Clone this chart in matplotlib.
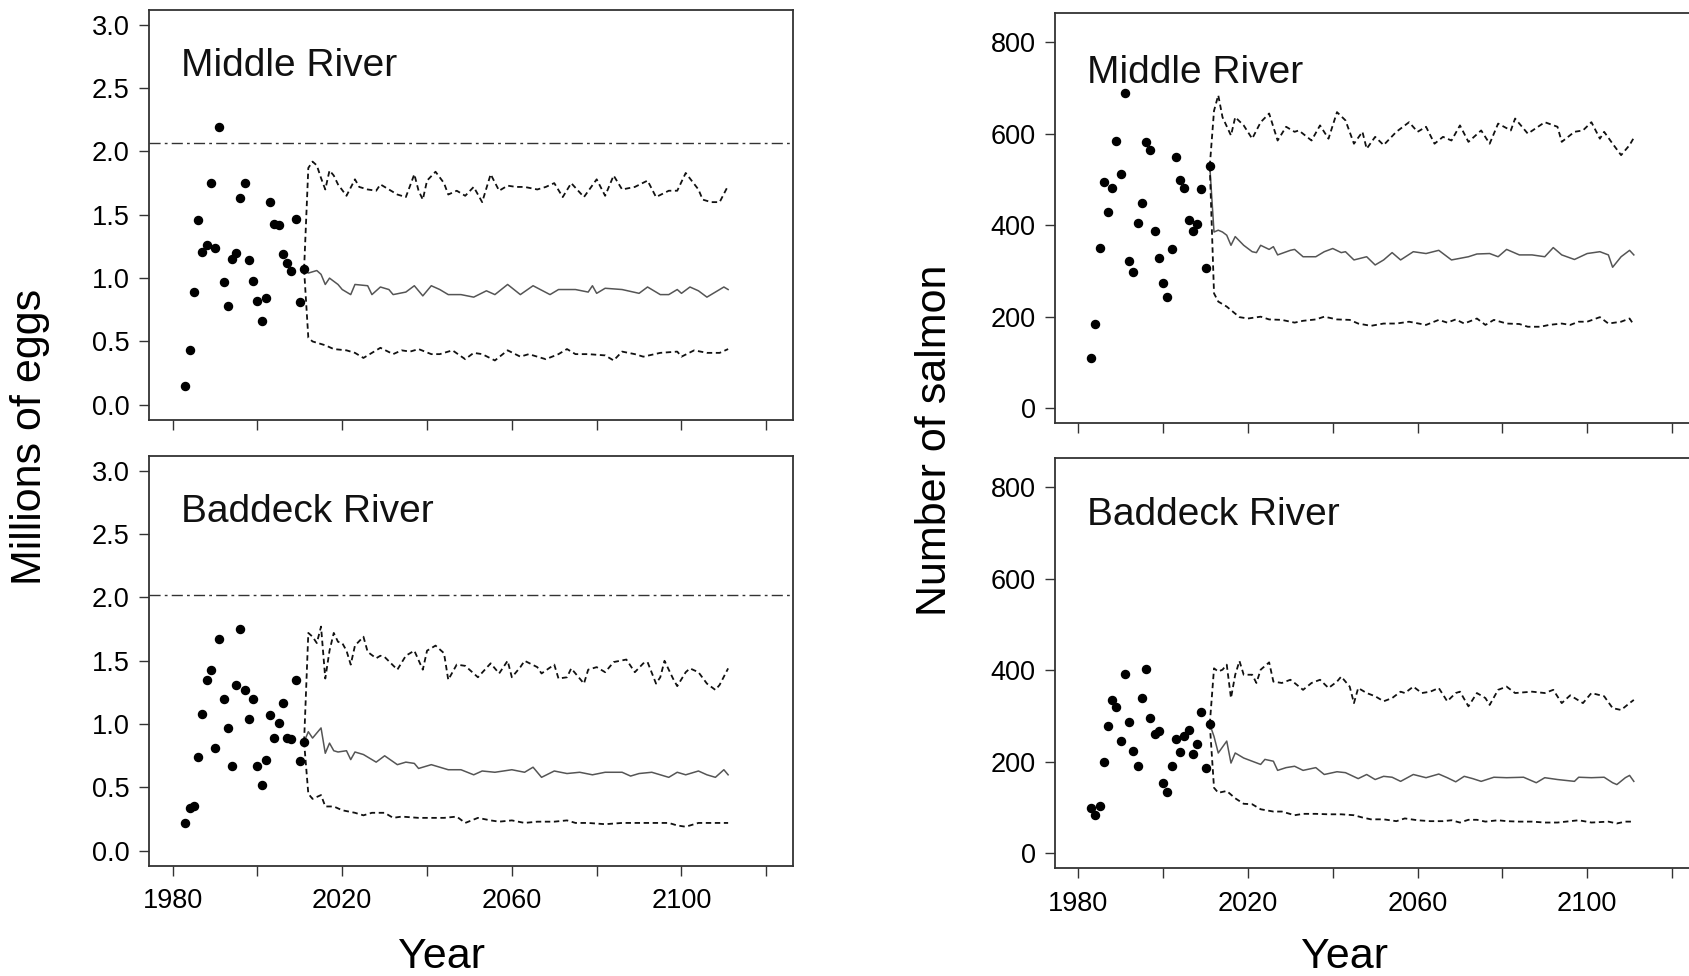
import matplotlib
matplotlib.use("Agg")
import matplotlib.pyplot as plt
from matplotlib import ticker

plt.rcParams["font.family"] = ["Liberation Sans", "DejaVu Sans"]

# observed values, 1983-2011
obs_years = list(range(1983, 2012))
mr_eggs_obs = [0.15, 0.43, 0.89, 1.46, 1.21, 1.26, 1.75, 1.24, 2.19, 0.97, 0.78, 1.15, 1.20, 1.63, 1.75,
               1.14, 0.98, 0.82, 0.66, 0.84, 1.60, 1.43, 1.42, 1.19, 1.12, 1.06, 1.47, 0.81, 1.07]
br_eggs_obs = [0.22, 0.34, 0.35, 0.74, 1.08, 1.35, 1.43, 0.81, 1.67, 1.20, 0.97, 0.67, 1.31, 1.75, 1.27,
               1.04, 1.20, 0.67, 0.52, 0.72, 1.07, 0.89, 1.01, 1.17, 0.89, 0.88, 1.35, 0.71, 0.86]
mr_salmon_obs = [109, 185, 351, 495, 429, 482, 583, 511, 689, 322, 298, 405, 449, 582, 565,
                 387, 329, 273, 242, 347, 548, 498, 482, 411, 387, 402, 480, 307, 529]
br_salmon_obs = [98, 83, 103, 200, 279, 335, 319, 245, 391, 286, 224, 190, 340, 403, 295,
                 261, 266, 154, 134, 190, 250, 221, 256, 270, 216, 239, 309, 187, 282]

# projections (year, value): upper, median, lower
mr_eggs_hi = [(2011, 1.07), (2012, 1.87), (2013, 1.92), (2014, 1.89), (2015, 1.79), (2016, 1.70), (2017, 1.85),
              (2018, 1.81), (2019, 1.74), (2021, 1.65), (2023, 1.78), (2024, 1.72), (2026, 1.70), (2028, 1.69),
              (2029, 1.74), (2031, 1.70), (2033, 1.66), (2035, 1.64), (2037, 1.82), (2038, 1.69), (2039, 1.62),
              (2040, 1.77), (2042, 1.84), (2044, 1.75), (2045, 1.66), (2047, 1.69), (2049, 1.65), (2051, 1.72),
              (2053, 1.60), (2055, 1.82), (2057, 1.69), (2059, 1.73), (2061, 1.72), (2063, 1.72), (2066, 1.70),
              (2068, 1.72), (2070, 1.75), (2072, 1.64), (2074, 1.75), (2077, 1.64), (2080, 1.78), (2082, 1.65),
              (2084, 1.81), (2086, 1.70), (2089, 1.72), (2092, 1.77), (2094, 1.64), (2097, 1.69), (2099, 1.69),
              (2101, 1.83), (2104, 1.70), (2105, 1.62), (2107, 1.60), (2109, 1.60), (2111, 1.73)]
mr_eggs_med = [(2011, 1.07), (2012, 1.04), (2014, 1.06), (2015, 1.03), (2016, 0.95), (2017, 1.00), (2019, 0.95),
               (2020, 0.91), (2022, 0.87), (2023, 0.95), (2026, 0.94), (2027, 0.87), (2029, 0.93), (2031, 0.91),
               (2032, 0.87), (2035, 0.89), (2037, 0.94), (2039, 0.86), (2041, 0.94), (2043, 0.91), (2045, 0.87),
               (2048, 0.87), (2051, 0.85), (2054, 0.90), (2056, 0.87), (2059, 0.95), (2062, 0.87), (2065, 0.94),
               (2069, 0.87), (2071, 0.91), (2075, 0.91), (2078, 0.89), (2079, 0.94), (2080, 0.88), (2082, 0.92),
               (2086, 0.91), (2090, 0.88), (2092, 0.93), (2095, 0.87), (2097, 0.87), (2099, 0.91), (2100, 0.88),
               (2102, 0.93), (2104, 0.90), (2106, 0.85), (2108, 0.89), (2110, 0.93), (2111, 0.91)]
mr_eggs_lo = [(2011, 1.07), (2012, 0.53), (2013, 0.50), (2016, 0.47), (2018, 0.44), (2021, 0.43), (2023, 0.41),
              (2025, 0.37), (2027, 0.41), (2029, 0.45), (2032, 0.40), (2034, 0.43), (2036, 0.42), (2038, 0.44),
              (2041, 0.40), (2043, 0.40), (2046, 0.43), (2049, 0.36), (2051, 0.41), (2053, 0.40), (2056, 0.35),
              (2059, 0.43), (2062, 0.38), (2064, 0.40), (2068, 0.36), (2071, 0.40), (2073, 0.44), (2075, 0.40),
              (2078, 0.40), (2082, 0.39), (2084, 0.35), (2086, 0.42), (2089, 0.40), (2091, 0.38), (2095, 0.41),
              (2099, 0.42), (2100, 0.38), (2103, 0.43), (2106, 0.41), (2109, 0.41), (2111, 0.44)]

br_eggs_hi = [(2011, 0.86), (2012, 1.72), (2013, 1.69), (2014, 1.64), (2015, 1.77), (2016, 1.36), (2017, 1.58),
              (2018, 1.72), (2019, 1.65), (2020, 1.64), (2021, 1.58), (2022, 1.47), (2023, 1.62), (2025, 1.69),
              (2026, 1.57), (2028, 1.52), (2029, 1.54), (2030, 1.53), (2033, 1.43), (2035, 1.54), (2037, 1.58),
              (2039, 1.43), (2040, 1.58), (2042, 1.62), (2044, 1.56), (2045, 1.35), (2047, 1.47), (2049, 1.46),
              (2050, 1.43), (2052, 1.37), (2055, 1.48), (2057, 1.40), (2059, 1.50), (2060, 1.37), (2062, 1.45),
              (2063, 1.50), (2066, 1.45), (2067, 1.40), (2070, 1.47), (2071, 1.36), (2073, 1.37), (2074, 1.44),
              (2077, 1.32), (2078, 1.43), (2080, 1.45), (2082, 1.41), (2084, 1.49), (2087, 1.51), (2089, 1.41),
              (2091, 1.48), (2092, 1.49), (2094, 1.32), (2095, 1.37), (2096, 1.50), (2098, 1.36), (2099, 1.30),
              (2101, 1.41), (2102, 1.44), (2104, 1.41), (2106, 1.32), (2108, 1.27), (2109, 1.31), (2111, 1.44)]
br_eggs_med = [(2011, 0.86), (2012, 0.94), (2013, 0.89), (2015, 0.97), (2016, 0.77), (2017, 0.85), (2018, 0.79),
               (2019, 0.78), (2021, 0.79), (2022, 0.72), (2023, 0.78), (2025, 0.76), (2028, 0.70), (2030, 0.75),
               (2033, 0.68), (2035, 0.70), (2037, 0.69), (2038, 0.65), (2041, 0.68), (2043, 0.66), (2045, 0.64),
               (2048, 0.64), (2051, 0.60), (2053, 0.63), (2056, 0.62), (2060, 0.64), (2063, 0.62), (2065, 0.66),
               (2067, 0.58), (2070, 0.63), (2073, 0.61), (2076, 0.62), (2079, 0.60), (2082, 0.62), (2086, 0.62),
               (2088, 0.59), (2090, 0.61), (2093, 0.62), (2095, 0.60), (2097, 0.58), (2099, 0.62), (2101, 0.60),
               (2104, 0.63), (2106, 0.60), (2108, 0.58), (2110, 0.64), (2111, 0.60)]
br_eggs_lo = [(2011, 0.86), (2012, 0.45), (2013, 0.41), (2015, 0.44), (2016, 0.35), (2018, 0.35), (2020, 0.32),
              (2023, 0.30), (2025, 0.28), (2027, 0.30), (2030, 0.30), (2032, 0.26), (2034, 0.27), (2038, 0.26),
              (2041, 0.26), (2044, 0.26), (2047, 0.27), (2049, 0.22), (2052, 0.26), (2055, 0.24), (2057, 0.23),
              (2060, 0.24), (2063, 0.22), (2066, 0.23), (2070, 0.23), (2073, 0.24), (2075, 0.22), (2078, 0.22),
              (2082, 0.21), (2086, 0.22), (2090, 0.22), (2093, 0.22), (2097, 0.22), (2099, 0.20), (2101, 0.19),
              (2104, 0.22), (2107, 0.22), (2111, 0.22)]

mr_salmon_hi = [(2011, 529), (2012, 650), (2013, 684), (2014, 636), (2016, 596), (2017, 636), (2019, 618),
                (2021, 589), (2023, 625), (2025, 644), (2027, 585), (2029, 615), (2031, 604), (2032, 607),
                (2035, 585), (2037, 618), (2039, 589), (2041, 647), (2043, 629), (2045, 578), (2047, 604),
                (2048, 567), (2050, 593), (2052, 575), (2055, 604), (2058, 625), (2060, 604), (2062, 615),
                (2064, 578), (2066, 593), (2068, 585), (2070, 618), (2072, 582), (2075, 607), (2077, 578),
                (2079, 622), (2082, 607), (2083, 633), (2086, 600), (2090, 625), (2093, 615), (2094, 582),
                (2097, 604), (2099, 607), (2101, 625), (2103, 589), (2104, 604), (2106, 578), (2108, 553),
                (2110, 575), (2111, 591)]
mr_salmon_med = [(2011, 529), (2012, 385), (2013, 389), (2014, 385), (2015, 378), (2016, 356), (2017, 375),
                 (2019, 356), (2021, 342), (2022, 340), (2023, 356), (2025, 347), (2026, 353), (2027, 335),
                 (2030, 345), (2031, 347), (2033, 331), (2036, 331), (2038, 342), (2040, 349), (2042, 340),
                 (2043, 342), (2045, 324), (2048, 331), (2050, 313), (2052, 324), (2054, 340), (2056, 324),
                 (2059, 342), (2062, 338), (2065, 345), (2068, 324), (2072, 331), (2074, 337), (2077, 338),
                 (2079, 331), (2081, 347), (2084, 335), (2087, 335), (2090, 331), (2092, 351), (2094, 335),
                 (2097, 325), (2100, 338), (2103, 342), (2105, 335), (2106, 308), (2108, 331), (2110, 345),
                 (2111, 335)]
mr_salmon_lo = [(2011, 529), (2012, 251), (2013, 233), (2015, 222), (2018, 199), (2020, 196), (2023, 200),
                (2025, 194), (2028, 193), (2031, 187), (2033, 191), (2036, 194), (2038, 200), (2041, 194),
                (2044, 193), (2046, 185), (2049, 180), (2052, 185), (2055, 185), (2058, 189), (2062, 182),
                (2065, 193), (2067, 187), (2069, 194), (2071, 185), (2074, 196), (2076, 182), (2078, 193),
                (2081, 185), (2084, 184), (2086, 178), (2089, 178), (2091, 182), (2094, 185), (2096, 182),
                (2098, 189), (2100, 189), (2103, 199), (2105, 185), (2108, 189), (2110, 196), (2111, 182)]

br_salmon_hi = [(2011, 282), (2012, 404), (2013, 397), (2014, 401), (2015, 412), (2016, 339), (2017, 390),
                (2018, 420), (2019, 390), (2021, 390), (2022, 372), (2023, 401), (2025, 417), (2026, 375),
                (2028, 372), (2030, 379), (2031, 372), (2033, 357), (2035, 372), (2037, 379), (2039, 361),
                (2041, 375), (2042, 386), (2044, 364), (2045, 328), (2046, 361), (2048, 350), (2050, 343),
                (2052, 332), (2054, 339), (2056, 353), (2057, 350), (2059, 364), (2061, 350), (2063, 353),
                (2065, 361), (2067, 332), (2069, 350), (2070, 353), (2072, 321), (2074, 350), (2076, 339),
                (2077, 324), (2079, 357), (2081, 364), (2083, 350), (2087, 353), (2090, 350), (2092, 357),
                (2094, 328), (2096, 345), (2099, 328), (2101, 350), (2104, 343), (2106, 317), (2108, 313),
                (2110, 328), (2111, 335)]
br_salmon_med = [(2011, 282), (2012, 255), (2013, 219), (2015, 245), (2016, 197), (2017, 219), (2019, 208),
                 (2021, 201), (2023, 194), (2024, 205), (2026, 201), (2027, 181), (2029, 187), (2031, 190),
                 (2033, 181), (2036, 187), (2038, 172), (2041, 178), (2043, 176), (2046, 163), (2048, 172),
                 (2050, 161), (2052, 168), (2054, 166), (2056, 157), (2059, 172), (2062, 165), (2065, 173),
                 (2067, 165), (2069, 156), (2071, 168), (2073, 163), (2075, 157), (2078, 166), (2081, 165),
                 (2085, 166), (2088, 154), (2090, 165), (2093, 161), (2097, 157), (2098, 166), (2101, 165),
                 (2104, 166), (2106, 154), (2107, 150), (2109, 165), (2110, 170), (2111, 157)]
br_salmon_lo = [(2011, 282), (2012, 143), (2013, 132), (2015, 136), (2017, 120), (2019, 108), (2021, 107),
                (2023, 96), (2026, 91), (2028, 91), (2031, 83), (2033, 86), (2036, 86), (2039, 85),
                (2042, 85), (2045, 83), (2047, 78), (2049, 74), (2052, 74), (2055, 70), (2057, 76),
                (2060, 72), (2063, 70), (2066, 70), (2068, 72), (2070, 67), (2072, 73), (2074, 73),
                (2076, 69), (2079, 72), (2081, 70), (2084, 69), (2087, 69), (2090, 67), (2093, 67),
                (2095, 69), (2098, 72), (2101, 67), (2105, 69), (2107, 65), (2109, 69), (2111, 69)]

# conservation requirement (eggs)
mr_ref = 2.07
br_ref = 2.02

xticks = [1980, 2000, 2020, 2040, 2060, 2080, 2100, 2120]
xticklabels = ["1980", "", "2020", "", "2060", "", "2100", ""]

W, H = 1690, 976
fig = plt.figure(figsize=(W / 100, H / 100), dpi=100)


def box(l, t, w, h):
    # pixel box (left, top) -> figure fraction
    return [l / W, 1 - (t + h) / H, w / W, h / H]


def panel(ax, obs, hi, med, lo, ref, title, title_y, ylim, yticks, yfmt, xlabels):
    ax.plot(obs_years, obs, "o", color="black", markersize=5.8, zorder=5)
    for series, ls, col, lw in [(hi, (0, (3, 2)), "#111111", 1.3),
                                (med, "-", "#555555", 1.1),
                                (lo, (0, (3, 2)), "#111111", 1.3)]:
        xs = [p[0] for p in series]
        ys = [p[1] for p in series]
        ax.plot(xs, ys, linestyle=ls, color=col, linewidth=lw, zorder=3)
    if ref is not None:
        ax.axhline(ref, color="#333333", linewidth=1.0, linestyle=(0, (8, 3, 2, 3)))
    ax.set_xlim(1974.5, 2126.3)
    ax.set_ylim(*ylim)
    ax.set_yticks(yticks)
    ax.yaxis.set_major_formatter(ticker.FormatStrFormatter(yfmt))
    ax.set_xticks(xticks)
    if xlabels:
        ax.set_xticklabels(xticklabels)
    else:
        ax.set_xticklabels([])
    ax.tick_params(direction="out", length=7, width=1.0, color="#333333",
                   labelsize=19.5, pad=7)
    ax.tick_params(axis="x", pad=9)
    for s in ax.spines.values():
        s.set_linewidth(1.3)
        s.set_color("#333333")
    ax.text(0.049, title_y, title, transform=ax.transAxes, fontsize=28,
            ha="left", va="baseline", color="#111111")


ax1 = fig.add_axes(box(149.3, 9.6, 643.7, 410.4))
ax2 = fig.add_axes(box(149.3, 455.6, 643.7, 410.4))
ax3 = fig.add_axes(box(1055, 13.3, 643.7, 410.0))
ax4 = fig.add_axes(box(1055, 458.3, 643.7, 410.0))

egg_lim = (-0.12, 3.12)
egg_ticks = [0.0, 0.5, 1.0, 1.5, 2.0, 2.5, 3.0]
fish_lim = (-33, 863)
fish_ticks = [0, 200, 400, 600, 800]

panel(ax1, mr_eggs_obs, mr_eggs_hi, mr_eggs_med, mr_eggs_lo, mr_ref, "Middle River", 0.838,
      egg_lim, egg_ticks, "%.1f", False)
panel(ax2, br_eggs_obs, br_eggs_hi, br_eggs_med, br_eggs_lo, br_ref, "Baddeck River", 0.838,
      egg_lim, egg_ticks, "%.1f", True)
panel(ax3, mr_salmon_obs, mr_salmon_hi, mr_salmon_med, mr_salmon_lo, None, "Middle River", 0.83,
      fish_lim, fish_ticks, "%.0f", False)
panel(ax4, br_salmon_obs, br_salmon_hi, br_salmon_med, br_salmon_lo, None, "Baddeck River", 0.838,
      fish_lim, fish_ticks, "%.0f", True)

fig.text(30 / W, 1 - 436.5 / H, "Millions of eggs", rotation=90, fontsize=31,
         ha="center", va="center")
fig.text(935.5 / W, 1 - 440 / H, "Number of salmon", rotation=90, fontsize=31,
         ha="center", va="center")
fig.text(442 / W, 1 - 957 / H, "Year", fontsize=31, ha="center", va="center")
fig.text(1345 / W, 1 - 957 / H, "Year", fontsize=31, ha="center", va="center")

fig.savefig("out.png", dpi=100)
